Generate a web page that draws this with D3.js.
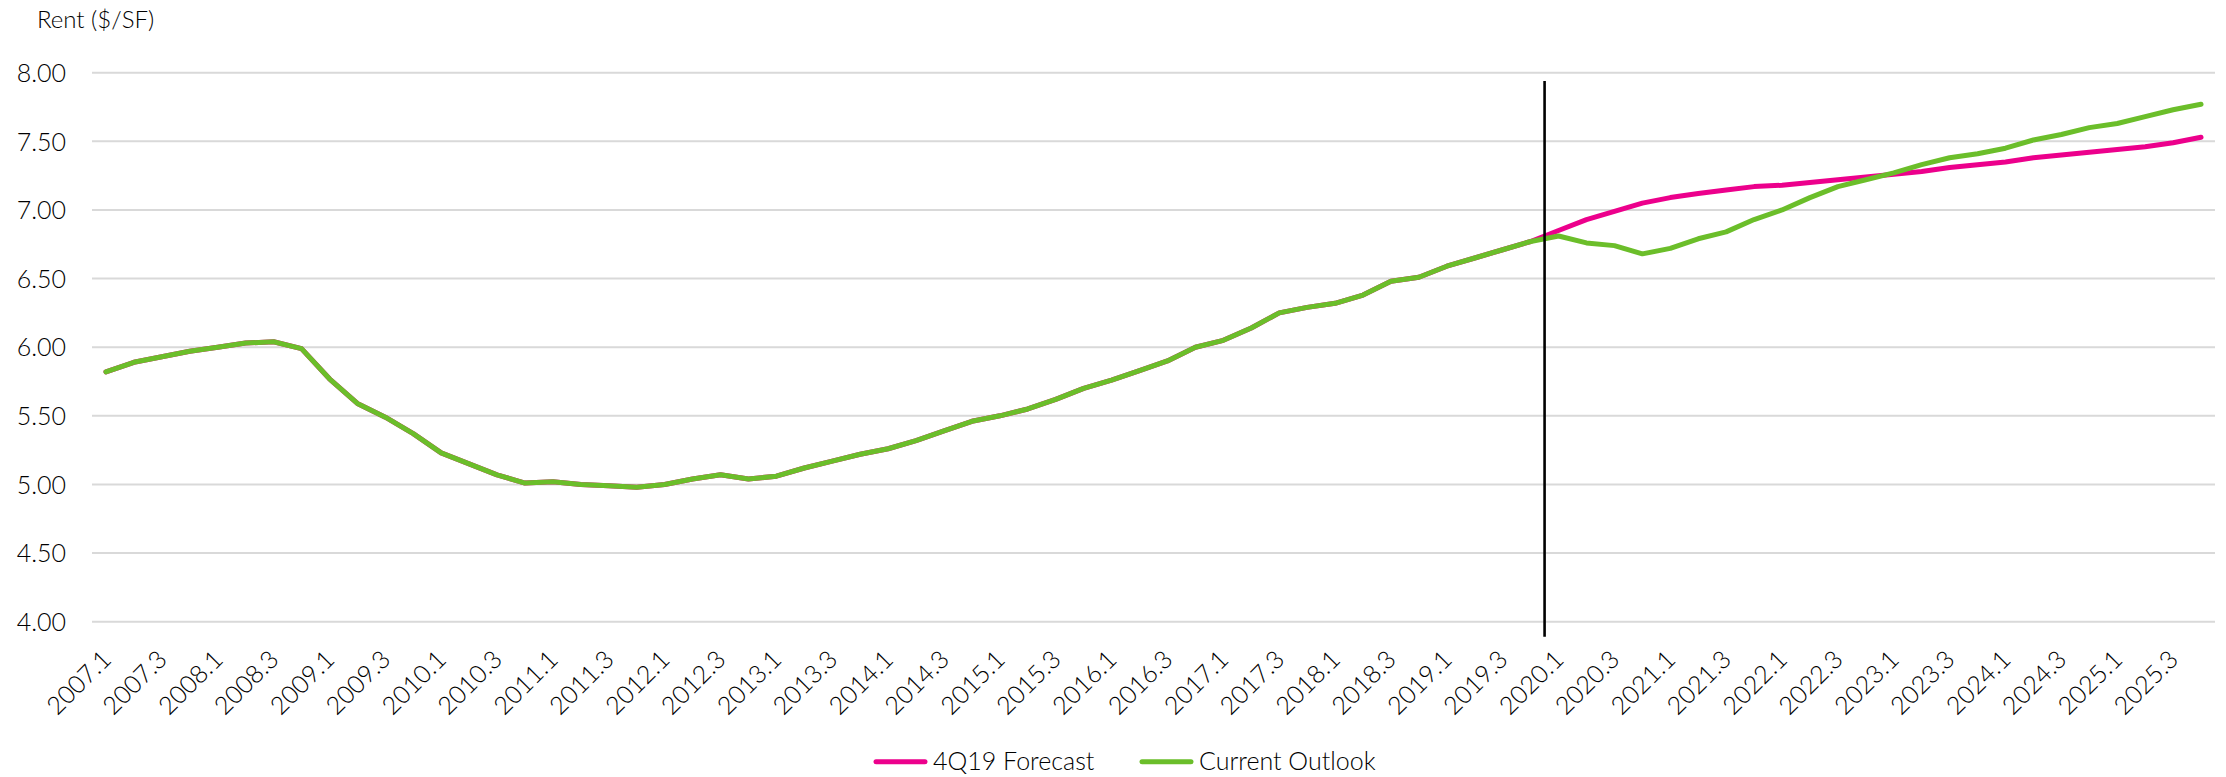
<!DOCTYPE html>
<html>
<head>
<meta charset="utf-8">
<script src="https://cdn.jsdelivr.net/npm/d3@7"></script>
<style>
  html, body { margin: 0; padding: 0; background: #fff; }
  svg { display: block; }
  text { font-family: "Lato", "DejaVu Sans", sans-serif; fill: #000; font-weight: 300; }
</style>
</head>
<body>
<svg id="chart" width="2226" height="777"></svg>
<script>
const quarters = [
  "2007.1","2007.2","2007.3","2007.4","2008.1","2008.2","2008.3","2008.4",
  "2009.1","2009.2","2009.3","2009.4","2010.1","2010.2","2010.3","2010.4",
  "2011.1","2011.2","2011.3","2011.4","2012.1","2012.2","2012.3","2012.4",
  "2013.1","2013.2","2013.3","2013.4","2014.1","2014.2","2014.3","2014.4",
  "2015.1","2015.2","2015.3","2015.4","2016.1","2016.2","2016.3","2016.4",
  "2017.1","2017.2","2017.3","2017.4","2018.1","2018.2","2018.3","2018.4",
  "2019.1","2019.2","2019.3","2019.4","2020.1","2020.2","2020.3","2020.4",
  "2021.1","2021.2","2021.3","2021.4","2022.1","2022.2","2022.3","2022.4",
  "2023.1","2023.2","2023.3","2023.4","2024.1","2024.2","2024.3","2024.4",
  "2025.1","2025.2","2025.3","2025.4"
];

const currentOutlook = [
  5.82, 5.89, 5.93, 5.97, 6.00, 6.03, 6.04, 5.99,
  5.77, 5.59, 5.49, 5.37, 5.23, 5.15, 5.07, 5.01,
  5.02, 5.00, 4.99, 4.98, 5.00, 5.04, 5.07, 5.04,
  5.06, 5.12, 5.17, 5.22, 5.26, 5.32, 5.39, 5.46,
  5.50, 5.55, 5.62, 5.70, 5.76, 5.83, 5.90, 6.00,
  6.05, 6.14, 6.25, 6.29, 6.32, 6.38, 6.48, 6.51,
  6.59, 6.65, 6.71, 6.77, 6.81, 6.76, 6.74, 6.68,
  6.72, 6.79, 6.84, 6.93, 7.00, 7.09, 7.17, 7.22,
  7.27, 7.33, 7.38, 7.41, 7.45, 7.51, 7.55, 7.60,
  7.63, 7.68, 7.73, 7.77
];

const forecast4Q19 = [
  5.82, 5.89, 5.93, 5.97, 6.00, 6.03, 6.04, 5.99,
  5.77, 5.59, 5.49, 5.37, 5.23, 5.15, 5.07, 5.01,
  5.02, 5.00, 4.99, 4.98, 5.00, 5.04, 5.07, 5.04,
  5.06, 5.12, 5.17, 5.22, 5.26, 5.32, 5.39, 5.46,
  5.50, 5.55, 5.62, 5.70, 5.76, 5.83, 5.90, 6.00,
  6.05, 6.14, 6.25, 6.29, 6.32, 6.38, 6.48, 6.51,
  6.59, 6.65, 6.71, 6.77, 6.85, 6.93, 6.99, 7.05,
  7.09, 7.12, 7.145, 7.17, 7.18, 7.20, 7.22, 7.24,
  7.26, 7.28, 7.31, 7.33, 7.35, 7.38, 7.40, 7.42,
  7.44, 7.46, 7.49, 7.53
];

const xTickLabels = [
  "2007.1","2007.3","2008.1","2008.3","2009.1","2009.3","2010.1","2010.3",
  "2011.1","2011.3","2012.1","2012.3","2013.1","2013.3","2014.1","2014.3",
  "2015.1","2015.3","2016.1","2016.3","2017.1","2017.3","2018.1","2018.3",
  "2019.1","2019.3","2020.1","2020.3","2021.1","2021.3","2022.1","2022.3",
  "2023.1","2023.3","2024.1","2024.3","2025.1","2025.3"
];
const yTicks = [4.00, 4.50, 5.00, 5.50, 6.00, 6.50, 7.00, 7.50, 8.00];
const seriesNames = ["4Q19 Forecast", "Current Outlook"];
const seriesColors = ["#EC008C", "#6BBE2A"];
const dividerQuarter = "2020.1";
const yAxisTitle = "Rent ($/SF)";

const svg = d3.select("#chart");
const plot = { left: 92, right: 2215, top: 72.7, bottom: 621.7 };

const x = d3.scalePoint().domain(quarters).range([plot.left, plot.right]).padding(0.5);
const y = d3.scaleLinear().domain([4, 8]).range([plot.bottom, plot.top]);

// gridlines
svg.append("g").selectAll("line").data(yTicks).join("line")
  .attr("x1", plot.left).attr("x2", plot.right)
  .attr("y1", d => y(d)).attr("y2", d => y(d))
  .attr("stroke", "#d9d9d9").attr("stroke-width", 2);

// y axis labels
const yAxis = d3.axisLeft(y).tickValues(yTicks).tickFormat(d3.format(".2f")).tickSize(0).tickPadding(0);
const yg = svg.append("g").attr("transform", `translate(${plot.left - 26},0)`).call(yAxis);
yg.select(".domain").remove();
yg.selectAll("text").style("font-size", "25px").attr("fill", "#000").attr("dy", "0.35em");

// y title
svg.append("text").attr("x", 37).attr("y", 28)
  .style("font-size", "24px").text(yAxisTitle);

// x axis labels
const xAxis = d3.axisBottom(x).tickValues(xTickLabels).tickSize(0).tickPadding(0);
const xg = svg.append("g").attr("transform", `translate(0,${plot.bottom})`).call(xAxis);
xg.select(".domain").remove();
xg.selectAll("text")
  .style("font-size", "25px").attr("fill", "#000")
  .attr("text-anchor", "end")
  .attr("dy", "0.35em").attr("y", 0)
  .attr("transform", "translate(0,33) rotate(-45)");

// lines
const line = d3.line().x((d, i) => x(quarters[i])).y(d => y(d));
const allSeries = [forecast4Q19, currentOutlook];
svg.append("g").selectAll("path").data(allSeries).join("path")
  .attr("d", d => line(d))
  .attr("fill", "none")
  .attr("stroke", (d, i) => seriesColors[i])
  .attr("stroke-width", 5)
  .attr("stroke-linejoin", "round")
  .attr("stroke-linecap", "round");

// divider
const divX = x(dividerQuarter) - x.step() / 2;
svg.append("line")
  .attr("x1", divX).attr("x2", divX)
  .attr("y1", y(7.94)).attr("y2", y(3.89))
  .attr("stroke", "#000").attr("stroke-width", 2.6);

// legend
const legend = svg.append("g");
const legendItems = [
  { name: seriesNames[0], color: seriesColors[0], x0: 874 },
  { name: seriesNames[1], color: seriesColors[1], x0: 1140 }
];
const ly = 761.7;
legendItems.forEach(it => {
  legend.append("line")
    .attr("x1", it.x0 + 2).attr("x2", it.x0 + 51)
    .attr("y1", ly).attr("y2", ly)
    .attr("stroke", it.color).attr("stroke-width", 5).attr("stroke-linecap", "round");
  legend.append("text")
    .attr("x", it.x0 + 59).attr("y", ly).attr("dy", "0.35em")
    .style("font-size", "25px").text(it.name);
});
</script>
</body>
</html>
